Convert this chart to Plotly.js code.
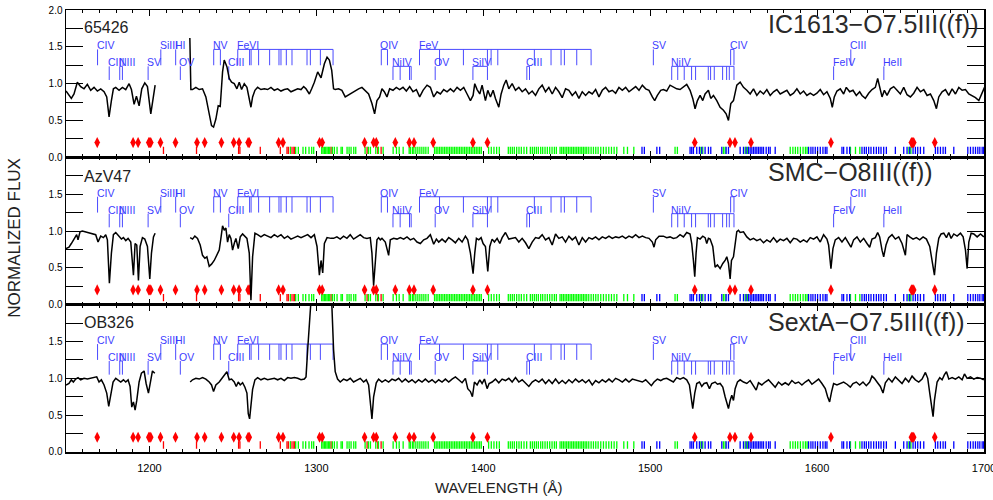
<!DOCTYPE html>
<html><head><meta charset="utf-8">
<script src="https://cdn.plot.ly/plotly-3.0.1.min.js"></script>
<style>html,body{margin:0;padding:0;background:#fff}#plot{width:993px;height:500px}</style>
</head><body><div id="plot"></div>
<script>
// ---------------- DATA ----------------
const starNames = ['65426', 'AzV47', 'OB326'];
const starTypes = ['IC1613\u2212O7.5III((f))', 'SMC\u2212O8III((f))', 'SextA\u2212O7.5III((f))'];

// spectra: [wavelength (A), normalized flux]
const spec1 = [[1150.0,0.90],[1151.8,0.84],[1153.2,0.80],[1154.8,0.86],[1156.8,1.02],[1158.8,0.96],[1160.8,0.93],[1162.8,0.99],[1164.8,0.91],[1166.8,0.95],[1168.8,0.90],[1170.8,0.93],[1172.8,0.89],[1174.4,0.82],[1175.8,0.55],[1177.2,0.77],[1178.4,0.93],[1179.8,0.95],[1181.8,0.91],[1183.8,0.95],[1185.8,0.92],[1187.8,1.00],[1189.2,0.92],[1190.8,0.72],[1192.2,0.83],[1193.8,0.70],[1195.4,0.93],[1197.2,1.01],[1198.8,0.96],[1200.8,0.59],[1202.4,0.82],[1203.4,0.98],[1214.0,null],
[1224.2,1.62],[1224.8,0.92],[1225.8,0.92],[1227.8,0.95],[1229.8,0.92],[1231.8,0.93],[1233.8,0.82],[1235.8,0.59],[1237.2,0.43],[1238.4,0.41],[1239.8,0.52],[1241.2,0.70],[1242.4,0.69],[1243.8,1.16],[1244.8,1.32],[1246.4,1.23],[1247.8,1.07],[1249.2,1.02],[1250.8,1.00],[1252.4,0.93],[1253.8,1.02],[1255.2,0.92],[1256.8,1.00],[1258.4,0.95],[1259.8,0.77],[1260.8,0.68],[1261.8,0.82],[1263.2,0.91],[1264.8,0.95],[1266.8,0.92],[1268.8,0.93],[1270.8,0.92],[1272.8,0.95],[1274.8,0.91],[1276.8,0.93],[1278.8,0.90],[1280.8,0.92],[1282.8,0.93],[1284.8,0.89],[1286.8,0.91],[1288.8,0.93],[1290.8,0.92],[1292.4,0.96],[1293.8,0.93],[1295.8,0.86],[1297.2,0.93],[1298.8,1.02],[1300.8,1.16],[1302.8,1.08],[1304.8,1.27],[1306.4,1.36],[1307.8,1.32],[1309.2,1.18],
[1310.3,0.93],[1311.3,0.92],[1313.3,0.93],[1315.3,0.91],[1317.3,0.82],[1319.3,0.85],[1321.3,0.87],[1323.3,0.91],[1325.3,0.93],[1327.3,0.95],[1329.3,0.91],[1331.3,0.86],[1333.3,0.73],[1334.9,0.59],[1336.3,0.77],[1337.9,0.82],[1339.3,0.93],[1340.7,0.89],[1342.3,0.82],[1343.9,0.93],[1345.9,0.91],[1347.9,0.95],[1349.9,0.92],[1351.9,0.95],[1353.9,0.90],[1355.9,0.96],[1357.9,0.89],[1359.9,0.92],[1361.9,0.82],[1363.9,0.91],[1366.3,0.98],[1368.3,0.95],[1370.3,0.82],[1372.3,0.89],[1374.3,0.86],[1376.3,0.92],[1378.3,0.89],[1380.3,0.93],[1382.3,0.89],[1384.3,0.95],[1386.3,0.91],[1388.3,0.95],[1390.3,0.86],[1392.3,0.77],[1393.9,0.84],[1394.9,1.00],[1396.3,0.92],[1397.9,0.86],[1399.3,0.98],[1401.3,0.77],[1402.7,0.91],[1404.3,0.82],[1405.9,0.91],[1407.3,0.80],[1409.3,0.68],[1410.7,0.86],[1412.3,0.98],[1413.7,1.05],[1415.3,0.93],[1417.3,1.00],[1419.3,0.91],[1421.3,0.95],[1423.3,0.89],[1425.3,0.93],[1427.3,0.86],[1429.3,0.90],[1431.3,0.84],[1433.3,0.93],[1435.3,0.98],[1437.3,0.89],[1439.3,0.95],[1441.3,0.86],[1443.3,0.95],[1445.3,0.89],[1447.3,0.81],[1449.3,0.93],[1451.3,0.91],[1453.3,0.84],[1455.3,0.89],[1457.3,0.80],[1459.3,0.89],[1461.3,0.84],[1463.3,0.89],[1465.3,0.86],[1467.3,0.92],[1469.3,0.82],[1471.3,0.91],[1473.3,0.95],[1475.3,0.89],[1477.3,0.91],[1479.3,0.87],[1481.3,0.95],[1483.3,0.91],[1485.3,0.95],[1487.3,0.89],[1489.3,0.93],[1491.3,0.96],[1493.3,0.91],[1495.3,0.98],[1497.3,0.93],[1499.3,0.91],[1501.3,0.82],[1502.7,0.77],[1504.3,0.84],[1506.3,0.91],
[1507.9,0.92],[1509.9,0.90],[1511.9,0.98],[1513.9,0.95],[1515.9,0.93],[1517.9,0.92],[1519.9,0.96],[1521.9,0.99],[1523.9,0.91],[1525.5,0.80],[1526.9,0.66],[1528.3,0.77],[1529.9,0.84],[1531.5,0.77],[1532.9,0.86],[1534.9,0.91],[1536.3,0.80],[1537.9,0.84],[1539.9,0.77],[1541.9,0.68],[1543.9,0.64],[1545.5,0.59],[1546.9,0.50],[1548.3,0.73],[1549.9,0.77],[1551.9,0.98],[1553.9,1.02],[1555.9,0.95],[1557.9,0.91],[1559.9,0.86],[1561.9,0.93],[1563.9,0.84],[1565.9,0.90],[1567.9,0.86],[1569.9,0.92],[1571.9,0.84],[1573.9,0.89],[1575.9,0.92],[1577.9,0.86],[1579.9,0.89],[1581.9,0.91],[1583.9,0.84],[1585.9,0.87],[1587.9,0.93],[1589.9,0.86],[1591.9,0.90],[1593.9,0.84],[1595.9,0.87],[1597.9,0.84],[1599.9,0.87],[1601.9,0.92],[1603.9,0.85],[1605.9,0.89],[1607.9,0.80],[1609.1,0.68],[1610.3,0.82],[1611.9,0.90],[1613.9,0.93],[1615.9,0.86],[1617.5,0.95],[1619.5,0.89],[1621.5,0.91],[1623.5,0.84],[1625.5,0.89],[1626.9,0.84],[1628.9,0.80],[1630.9,0.87],[1632.9,0.92],[1634.9,0.95],[1636.3,1.07],[1637.5,0.95],[1638.9,0.82],[1640.3,0.91],[1641.9,0.84],[1643.9,0.93],[1645.9,0.96],[1647.9,0.91],[1649.9,0.86],[1651.9,0.95],[1653.9,0.85],[1655.9,0.82],[1657.9,0.87],[1659.9,0.95],[1661.9,0.89],[1663.9,0.92],[1665.9,0.84],[1667.9,0.86],[1669.9,0.77],[1671.5,0.66],[1672.9,0.82],[1674.9,0.89],[1676.9,0.92],[1678.9,0.84],[1680.9,0.93],[1682.9,0.86],[1684.9,0.95],[1686.9,0.91],[1688.9,0.92],[1690.9,0.86],[1692.9,0.84],[1694.9,0.81],[1696.9,0.77],[1698.9,0.89],[1700.3,0.95]];

const spec2 = [[1150.0,0.76],[1151.8,0.78],[1153.2,0.83],[1154.8,0.90],[1156.4,0.95],[1157.2,0.88],[1158.4,0.99],[1159.8,1.00],[1161.8,0.99],[1163.8,0.98],[1165.8,0.96],[1167.8,0.95],[1169.2,0.85],[1170.8,0.93],[1172.4,0.91],[1173.8,0.95],[1174.8,0.88],[1176.0,0.29],[1177.2,0.70],[1178.4,0.95],[1179.8,0.98],[1181.8,0.93],[1183.2,0.89],[1184.4,0.91],[1185.8,0.87],[1187.2,0.90],[1188.8,0.85],[1190.4,0.40],[1191.4,0.83],[1192.4,0.81],[1193.4,0.33],[1194.4,0.79],[1195.8,0.91],[1197.2,0.89],[1198.8,0.79],[1200.2,0.35],[1201.2,0.70],[1202.4,0.92],[1203.4,0.97],[1214.0,null],
[1224.4,0.91],[1225.8,0.89],[1227.2,0.93],[1228.8,0.90],[1230.4,0.81],[1231.8,0.67],[1233.2,0.63],[1234.4,0.65],[1235.8,0.52],[1237.2,0.55],[1238.8,0.60],[1240.4,0.67],[1241.8,0.74],[1242.8,0.90],[1243.8,1.07],[1244.8,1.01],[1245.8,1.04],[1246.8,0.85],[1247.8,0.95],[1248.8,0.90],[1249.8,0.74],[1250.8,0.83],[1251.8,0.90],[1253.2,0.76],[1254.4,0.92],[1255.8,0.96],[1257.2,0.93],[1258.4,0.90],[1259.8,0.70],[1260.8,0.06],[1261.8,0.65],[1263.2,0.97],[1264.8,0.95],[1266.8,0.92],[1268.8,0.95],[1270.8,0.93],[1272.8,0.91],[1274.8,0.95],[1276.8,0.92],[1278.8,0.95],[1280.8,0.90],[1282.8,0.93],[1284.8,0.89],[1286.8,0.91],[1288.8,0.93],[1290.8,0.91],[1292.8,0.93],[1294.8,0.95],[1296.8,0.91],[1298.8,0.95],[1300.4,0.79],[1301.8,0.40],[1302.8,0.60],[1303.8,0.43],[1304.8,0.83],[1306.4,0.91],[1308.8,0.90],
[1310.3,0.90],[1312.3,0.92],[1314.3,0.89],[1316.3,0.93],[1318.3,0.90],[1320.3,0.95],[1322.3,0.89],[1324.3,0.92],[1326.3,0.95],[1328.3,0.91],[1330.3,0.90],[1332.3,0.91],[1333.3,0.70],[1334.3,0.26],[1335.3,0.60],[1336.3,0.88],[1337.3,0.91],[1338.3,0.88],[1339.3,0.90],[1341.3,0.85],[1343.3,0.67],[1344.3,0.88],[1346.3,0.90],[1348.3,0.89],[1350.3,0.91],[1352.3,0.89],[1354.3,0.92],[1356.3,0.88],[1358.3,0.90],[1360.3,0.85],[1362.3,0.83],[1364.3,0.88],[1366.3,0.90],[1368.3,0.95],[1370.3,0.82],[1371.9,0.89],[1373.3,0.85],[1375.3,0.89],[1377.3,0.85],[1379.3,0.91],[1381.3,0.88],[1383.3,0.84],[1385.3,0.90],[1387.3,0.85],[1389.3,0.93],[1390.7,0.88],[1392.3,0.70],[1393.9,0.42],[1394.9,0.70],[1395.9,0.90],[1397.3,0.88],[1398.7,0.91],[1399.9,0.83],[1401.3,0.79],[1402.7,0.45],[1403.9,0.79],[1405.3,0.89],[1406.7,0.85],[1408.3,0.90],[1409.9,0.83],[1411.3,0.91],[1413.3,0.98],[1415.3,0.89],[1417.3,0.90],[1419.3,0.91],[1421.3,0.85],[1423.3,0.90],[1425.3,0.84],[1427.3,0.76],[1429.3,0.85],[1431.3,0.91],[1433.3,0.90],[1435.3,0.95],[1437.3,0.88],[1439.3,0.91],[1441.3,0.81],[1443.3,0.96],[1445.3,0.90],[1447.3,0.92],[1449.3,0.85],[1451.3,0.93],[1453.3,0.88],[1455.3,0.92],[1457.3,0.81],[1459.3,0.91],[1461.3,0.85],[1463.3,0.91],[1465.3,0.89],[1467.3,0.92],[1469.3,0.88],[1471.3,0.92],[1473.3,0.90],[1475.3,0.93],[1477.3,0.90],[1479.3,0.92],[1481.3,0.91],[1483.3,0.93],[1485.3,0.90],[1487.3,0.93],[1489.3,0.91],[1491.3,0.95],[1493.3,0.91],[1495.3,0.93],[1497.3,0.91],[1499.3,0.90],[1501.3,0.85],[1502.3,0.78],[1503.3,0.88],[1505.3,0.93],
[1507.9,0.93],[1509.9,0.91],[1511.9,0.92],[1513.9,0.90],[1515.9,0.91],[1517.9,0.95],[1519.9,0.92],[1521.9,0.98],[1523.9,0.96],[1524.9,0.83],[1525.9,0.60],[1526.7,0.38],[1527.5,0.70],[1528.3,0.91],[1529.9,0.89],[1531.5,0.93],[1532.9,0.91],[1533.9,0.83],[1534.9,0.90],[1535.9,0.89],[1537.5,0.79],[1538.9,0.51],[1540.3,0.54],[1541.9,0.49],[1543.5,0.56],[1544.9,0.60],[1545.9,0.65],[1546.9,0.56],[1547.9,0.35],[1548.7,0.60],[1549.9,0.65],[1550.9,0.79],[1551.9,0.99],[1552.9,1.01],[1553.9,0.98],[1555.9,0.99],[1557.9,0.92],[1559.9,0.88],[1561.9,0.90],[1563.9,0.87],[1565.9,0.89],[1567.9,0.84],[1569.9,0.88],[1571.9,0.85],[1573.9,0.91],[1575.9,0.85],[1577.9,0.89],[1579.9,0.87],[1581.9,0.90],[1583.9,0.84],[1585.9,0.90],[1587.9,0.89],[1589.9,0.85],[1591.9,0.88],[1593.9,0.85],[1595.9,0.91],[1597.9,0.89],[1599.9,0.92],[1601.9,0.85],[1603.9,0.95],[1605.9,0.89],[1606.9,0.81],[1608.3,0.49],[1609.5,0.76],[1610.9,0.88],[1612.9,0.91],[1614.9,0.85],[1616.9,0.91],[1618.9,0.83],[1620.3,0.78],[1621.9,0.88],[1623.9,0.92],[1625.9,0.85],[1627.9,0.90],[1629.9,0.83],[1631.5,0.78],[1632.9,0.89],[1634.9,0.91],[1636.3,0.98],[1637.5,0.92],[1638.9,0.74],[1639.9,0.65],[1641.3,0.81],[1642.9,0.91],[1644.9,0.95],[1646.9,0.89],[1648.9,0.92],[1650.9,0.83],[1652.9,0.67],[1653.9,0.95],[1655.5,0.92],[1657.5,0.89],[1659.5,0.91],[1661.5,0.88],[1663.5,0.92],[1665.5,0.89],[1667.5,0.79],[1668.9,0.60],[1670.3,0.40],[1671.5,0.70],[1672.9,0.90],[1674.3,0.96],[1675.9,0.97],[1677.5,0.91],[1678.9,0.98],[1680.3,0.90],[1681.9,0.96],[1683.9,0.93],[1685.9,0.97],[1687.5,0.92],[1688.9,0.74],[1689.9,0.49],[1690.9,0.85],[1692.3,0.97],[1693.9,0.96],[1695.9,0.92],[1697.9,0.96],[1699.9,0.92]];

const spec3 = [[1150.0,0.91],[1151.8,0.93],[1153.2,0.98],[1154.4,0.95],[1155.8,0.99],[1157.2,1.01],[1158.8,0.98],[1160.8,1.00],[1162.8,0.99],[1164.8,1.00],[1166.8,1.01],[1168.4,1.02],[1169.8,0.95],[1171.2,0.98],[1172.8,0.91],[1174.4,0.80],[1175.6,0.62],[1176.8,0.75],[1178.2,0.95],[1179.8,1.00],[1181.2,0.98],[1182.8,0.95],[1184.4,0.98],[1185.8,0.95],[1187.2,0.98],[1188.4,0.89],[1189.4,0.61],[1190.4,0.68],[1191.4,0.57],[1192.4,0.70],[1193.8,0.95],[1195.2,1.07],[1196.8,1.10],[1198.0,0.93],[1199.4,0.80],[1200.4,0.91],[1201.8,1.10],[1203.2,1.07],[1214.0,null],
[1224.4,0.95],[1225.8,0.98],[1227.8,1.00],[1229.8,0.99],[1231.8,1.01],[1233.8,0.99],[1235.8,0.95],[1237.2,0.91],[1238.4,0.82],[1239.8,0.91],[1241.8,0.95],[1243.8,1.01],[1245.2,1.05],[1246.4,1.09],[1247.8,0.98],[1249.2,0.99],[1250.8,0.95],[1252.0,0.89],[1253.2,0.95],[1254.4,0.91],[1255.8,0.94],[1257.2,0.88],[1258.4,0.80],[1259.2,0.52],[1260.0,0.45],[1260.8,0.61],[1261.8,0.85],[1263.2,0.98],[1264.8,1.01],[1266.8,0.98],[1268.8,1.00],[1270.8,0.98],[1272.8,0.99],[1274.8,1.00],[1276.8,0.98],[1278.8,1.00],[1280.8,0.97],[1282.8,1.01],[1284.8,1.00],[1286.8,1.01],[1288.8,1.00],[1290.8,0.98],[1292.8,0.99],[1293.8,1.02],[1294.8,1.39],[1295.8,1.84],[1296.6,2.40],[1299.0,2.80],[1304.0,2.90],[1308.4,2.50],[1309.3,1.98],[1310.3,1.39],[1311.3,1.09],[1312.7,0.99],
[1314.3,0.95],[1316.3,0.99],[1318.3,0.97],[1320.3,1.00],[1322.3,0.95],[1324.3,0.98],[1326.3,1.00],[1328.3,0.95],[1329.9,0.98],[1331.3,0.91],[1332.3,0.70],[1333.3,0.45],[1334.3,0.75],[1335.9,0.94],[1337.3,0.99],[1339.3,0.95],[1341.3,0.98],[1343.3,0.95],[1345.3,0.99],[1347.3,0.97],[1349.3,1.00],[1351.3,0.95],[1353.3,0.99],[1355.3,0.95],[1357.3,0.98],[1359.3,0.94],[1361.3,0.98],[1363.3,0.95],[1365.3,0.99],[1367.3,0.95],[1369.3,0.98],[1371.3,0.94],[1373.3,0.98],[1375.3,0.95],[1377.3,0.99],[1379.3,0.95],[1381.3,0.99],[1383.3,1.02],[1385.3,0.98],[1387.3,0.94],[1389.3,1.00],[1390.7,0.86],[1392.3,0.82],[1393.5,0.75],[1394.7,0.95],[1396.3,0.91],[1397.9,0.98],[1399.3,0.93],[1400.7,0.99],[1402.3,0.86],[1403.5,0.93],[1405.3,0.95],[1407.3,0.99],[1409.3,0.94],[1411.3,0.99],[1413.3,0.97],[1415.3,1.00],[1417.3,0.95],[1419.3,1.01],[1421.3,0.95],[1423.3,0.98],[1425.3,0.94],[1427.3,0.89],[1429.3,0.95],[1431.3,0.98],[1433.3,0.95],[1435.3,0.99],[1437.3,0.93],[1439.3,0.98],[1441.3,0.93],[1443.3,0.99],[1445.3,0.93],[1447.3,0.97],[1449.3,0.93],[1451.3,0.98],[1453.3,0.94],[1455.3,0.99],[1457.3,0.95],[1459.3,0.98],[1461.3,0.94],[1463.3,0.98],[1465.3,0.91],[1467.3,0.97],[1469.3,0.94],[1471.3,0.98],[1473.3,0.95],[1475.3,0.99],[1477.3,0.95],[1479.3,1.00],[1481.3,0.98],[1483.3,0.95],[1485.3,0.99],[1487.3,0.95],[1489.3,0.99],[1491.3,0.98],[1493.3,0.97],[1495.3,0.95],[1497.3,0.98],[1499.3,0.94],[1500.7,0.90],[1502.3,0.95],[1504.3,0.99],[1506.3,0.97],
[1507.9,0.99],[1509.9,1.00],[1511.9,0.98],[1513.9,0.95],[1515.9,1.01],[1517.9,0.99],[1519.9,1.01],[1521.9,0.98],[1523.5,0.91],[1524.7,0.70],[1525.5,0.59],[1526.7,0.80],[1527.9,0.93],[1529.5,0.95],[1530.9,0.89],[1532.3,0.93],[1533.9,0.94],[1535.5,0.86],[1536.9,0.93],[1538.9,0.95],[1540.3,0.92],[1541.9,0.93],[1543.5,0.88],[1544.9,0.75],[1545.9,0.66],[1546.9,0.59],[1547.9,0.70],[1548.9,0.77],[1549.9,0.70],[1550.9,0.86],[1552.3,0.95],[1553.9,0.98],[1555.9,0.95],[1557.9,0.93],[1559.9,0.97],[1561.9,0.90],[1563.5,0.84],[1564.9,0.94],[1566.9,0.91],[1568.9,0.95],[1570.9,0.98],[1572.9,0.93],[1574.9,0.88],[1576.9,0.95],[1578.9,0.91],[1580.9,0.94],[1582.9,0.91],[1584.9,0.97],[1586.9,0.93],[1588.9,0.95],[1590.9,0.91],[1592.9,0.95],[1594.9,0.98],[1596.9,0.92],[1598.9,0.95],[1600.9,0.99],[1602.9,0.93],[1604.9,0.86],[1606.3,0.75],[1607.5,0.68],[1608.7,0.82],[1609.9,0.93],[1611.9,0.91],[1613.9,0.93],[1615.9,0.95],[1617.9,0.92],[1619.9,0.88],[1621.5,0.93],[1623.5,0.95],[1625.5,0.91],[1627.5,0.95],[1629.5,0.90],[1631.5,0.95],[1632.9,1.03],[1634.3,1.00],[1635.9,0.95],[1637.9,0.89],[1639.5,0.80],[1640.9,0.94],[1642.9,1.00],[1644.9,0.95],[1646.9,1.02],[1648.9,0.98],[1650.9,0.93],[1652.9,1.00],[1654.9,0.95],[1656.9,1.03],[1658.9,0.98],[1660.9,0.95],[1662.9,0.99],[1664.9,1.08],[1666.3,1.00],[1667.5,0.80],[1668.9,0.55],[1669.5,0.48],[1670.3,0.70],[1671.9,0.95],[1673.5,1.01],[1674.9,0.98],[1676.3,1.05],[1677.5,1.09],[1678.9,0.99],[1680.9,1.01],[1682.9,0.99],[1684.9,1.02],[1686.9,0.98],[1688.3,1.06],[1689.9,1.00],[1691.9,1.02],[1693.9,0.99],[1695.9,1.01],[1697.9,1.00],[1699.9,0.98]];

// photospheric line identifications (blue): label, row (1 = upper, 2 = lower), wavelengths
const idLabels = ['CIV','SiIII','HI','NV','FeVI','OIV','FeV','SV','CIV','CIII',
                  'CIII','NIII','SV','OV','CIII','NiIV','OV','SiIV','CIII','NiIV','FeIV','HeII'];
const idRows   = [1,1,1,1,1,1,1,1,1,1, 2,2,2,2,2,2,2,2,2,2,2,2];
const idWaves  = [
  [1168.9],[1206.8],[1215.7],[1238.5,1242.5],
  [1252.9,1260.0,1260.9,1265.4,1272.0,1277.6,1278.8,1282.0,1285.4,1294.4,1296.4,1302.4,1310.0],
  [1338.9,1342.6],
  [1361.8,1373.8,1388.1,1402.5,1404.7,1408.7,1430.6,1440.6,1446.6,1448.6,1456.0,1464.6],
  [1501.9],[1548.2,1550.2],[1620.2],
  [1175.9],[1182.2,1183.8],[1199.2],[1218.5],[1247.5],
  [1345.9,1350.2,1355.8,1356.8],[1371.2],[1393.8,1402.5],[1426.1,1427.7],
  [1512.9,1516.5,1520.4,1524.8,1527.2,1534.8,1536.2,1538.4,1543.4,1545.8,1547.4,1550.2],
  [1609.9],[1640.0]
];

// interstellar lines (red diamonds)
const ismDiamonds = [1168.7,1190.2,1193.2,1199.6,1200.2,1200.8,1206.6,1215.6,1228.5,1233.1,1243.1,1250.5,1253.7,1259.1,1259.8,1277.4,1280.0,1301.9,1303.5,1328.9,1334.3,1335.9,1347.3,1355.7,1358.5,1370.0,1393.8,1402.5,1526.7,1547.8,1550.8,1560.4,1608.3,1656.5,1657.2,1657.9,1670.5];
// short ticks at the bottom
const redTicks = [1208.4,1228.2,1253.4,1254.2,1266.4,1278.4,1282.4,1283.2,1284.8,1286.0,1286.8,1308.8,1330.4,1336.8,1338.8];
const greenTicks = [1284.4,1287.6,1289.2,1292.0,1293.6,1295.6,1297.2,1298.4,
 1303.2,1304.0,1304.8,1305.6,1306.4,1307.2,1308.0,1309.6,1310.8,1312.4,1314.8,1315.6,1318.4,1319.6,1320.8,1322.4,1323.6,
 1329.2,1331.2,1332.4,1335.6,1337.2,1340.0,1346.0,1348.0,1349.6,1352.0,
 1355.6,1356.4,1357.6,1358.4,1359.6,1360.8,1362.0,1363.2,1364.4,1365.6,1367.0,
 1370.8,1371.8,1372.8,1373.8,1374.8,1375.8,1376.8,1377.8,1378.8,1379.8,1380.8,1381.8,1382.8,1383.8,1384.8,1385.8,1386.8,1387.8,1388.8,1389.8,1390.8,1391.8,1392.8,1393.8,1394.8,1395.8,1396.8,1397.8,1398.8,
 1403.2,1404.8,1406.4,1408.0,1409.6,
 1415.0,1416.2,1417.4,1418.6,1420.0,1421.4,1422.8,1424.4,1426.0,
 1428.2,1429.4,1430.6,1431.8,1433.0,1434.4,1435.6,1437.0,1438.4,1439.8,1441.2,1442.6,1443.8,
 1446.0,1447.0,1448.0,1449.0,1450.0,1451.0,1452.0,1453.0,1454.0,1455.0,1456.0,1457.0,1458.0,1459.0,1460.0,1461.0,1462.0,1463.2,1464.6,1466.0,1467.4,1468.8,1470.4,1472.0,1473.6,1475.2,1476.8,1478.4,1480.0,
 1484.2,1486.4,1490.2,
 1514.9,1516.3,1529.9,1531.5,1543.9,1544.9,1556.9,1558.3,
 1583.9,1585.5,1587.0,1588.4,1590.0,1591.6,1593.0,1594.0,
 1620.0,1623.0,1625.6,1655.0,1656.2];
const blueTicks = [1495.1,1496.5,1504.0,1505.7,
 1523.9,1524.9,1525.9,1527.9,1529.5,1530.9,1532.9,1534.9,1536.3,
 1542.9,1545.5,1546.9,
 1553.9,1555.9,1557.5,1558.9,1559.9,1560.9,1561.9,1562.9,1563.9,1564.9,1565.9,1566.9,1567.9,1569.5,1570.9,1571.9,1574.9,
 1594.9,1596.3,1597.5,1598.9,1600.3,1601.9,1603.5,1604.9,1605.9,
 1614.9,1615.9,1617.9,1619.5,
 1626.9,1628.3,1629.5,1630.9,1632.3,1633.9,1635.5,1636.9,1638.3,1639.9,1641.5,
 1646.9,
 1651.9,1653.9,1655.5,1657.5,1658.9,1660.3,1661.9,1663.9,
 1670.9,1672.3,1673.9,1675.5,1676.9,
 1681.9,
 1690.3,1691.9,1693.5,1694.9,1696.3,1697.5,1698.9,1699.8];

const yTickVals = [0,0.25,0.5,0.75,1.0,1.25,1.5,1.75,2.0];

// ---------------- BUILD ----------------
const FONT = 'Liberation Sans, Arial, Helvetica, sans-serif';
const ID_BLUE = '#3c3cff';
const rowGeom = {1:{top:1.465, bot:1.25}, 2:{top:1.235, bot:1.05}};
const specs = [spec1, spec2, spec3];
const traces = [];
const annotations = [];

function segs(xs, y0, y1) {
  const X = [], Y = [];
  xs.forEach(w => { X.push(w, w, null); Y.push(y0, y1, null); });
  return {X, Y};
}

for (let k = 0; k < 3; k++) {
  const xa = k === 0 ? 'x' : 'x' + (k + 1);
  const ya = k === 0 ? 'y' : 'y' + (k + 1);
  // blue ID ticks + brackets
  const X = [], Y = [];
  idWaves.forEach((ws, i) => {
    const g = rowGeom[idRows[i]];
    ws.forEach(w => { X.push(w, w, null); Y.push(g.top, g.bot, null); });
    if (ws.length > 1) { X.push(ws[0], ws[ws.length - 1], null); Y.push(g.top, g.top, null); }
    annotations.push({xref: xa, yref: ya, x: ws[0], y: g.top, xanchor: 'left', yanchor: 'bottom',
      yshift: -3, xshift: -2, text: idLabels[i], showarrow: false, borderpad: 0,
      font: {family: FONT, size: 10.5, color: ID_BLUE}});
  });
  traces.push({type: 'scatter', mode: 'lines', x: X, y: Y, xaxis: xa, yaxis: ya,
    line: {color: '#4a4aff', width: 1}, hoverinfo: 'skip'});
  // bottom ticks
  const r = segs(redTicks, 0.045, 0.145);
  traces.push({type: 'scatter', mode: 'lines', x: r.X, y: r.Y, xaxis: xa, yaxis: ya,
    line: {color: '#ff0000', width: 1.3}, hoverinfo: 'skip'});
  const gT = segs(greenTicks, 0.045, 0.145);
  traces.push({type: 'scatter', mode: 'lines', x: gT.X, y: gT.Y, xaxis: xa, yaxis: ya,
    line: {color: '#00ff00', width: 1.3}, hoverinfo: 'skip'});
  const bT = segs(blueTicks, 0.045, 0.145);
  traces.push({type: 'scatter', mode: 'lines', x: bT.X, y: bT.Y, xaxis: xa, yaxis: ya,
    line: {color: '#0000ff', width: 1.3}, hoverinfo: 'skip'});
  // red diamonds
  traces.push({type: 'scatter', mode: 'markers', x: ismDiamonds, y: ismDiamonds.map(() => 0.2),
    xaxis: xa, yaxis: ya, marker: {symbol: 'diamond-tall', size: 8, color: '#ff0000', line: {width: 0}},
    hoverinfo: 'skip'});
  // spectrum
  traces.push({type: 'scatter', mode: 'lines', x: specs[k].map(p => p[0]), y: specs[k].map(p => p[1]),
    xaxis: xa, yaxis: ya, connectgaps: false, line: {color: '#000', width: 1.5}, hoverinfo: 'skip'});

  // star name (left) and type (right)
  annotations.push({xref: 'paper', yref: 'paper', x: 0.0175, y: [0.9615, 0.6244, 0.293][k], xanchor: 'left', yanchor: 'middle',
    text: starNames[k], showarrow: false, font: {family: FONT, size: 16, color: '#222'}});
  annotations.push({xref: 'paper', yref: 'paper', x: 0.7625, y: [0.9688, 0.6335, 0.293][k], xanchor: 'left', yanchor: 'middle',
    text: starTypes[k], showarrow: false, font: {family: FONT, size: 25, color: '#2a2a2a'}});
}

annotations.push({xref: 'paper', yref: 'paper', x: -0.0555, y: 0.485, xanchor: 'center', yanchor: 'middle',
  textangle: -90, text: 'NORMALIZED FLUX', showarrow: false, font: {family: FONT, size: 17, color: '#222'}});
annotations.push({xref: 'paper', yref: 'paper', x: 0.472, y: -0.0814, xanchor: 'center', yanchor: 'middle',
  text: 'WAVELENGTH (\u00c5)', showarrow: false, font: {family: FONT, size: 15, color: '#222'}});

const xBase = {
  range: [1150, 1700], showgrid: false, zeroline: false,
  showline: true, linecolor: '#000', linewidth: 1.5, mirror: 'ticks',
  ticks: 'inside', ticklen: 6, tickwidth: 1, tickcolor: '#000', tick0: 1100, dtick: 100,
  minor: {ticks: 'inside', ticklen: 3, tickwidth: 1, tickcolor: '#000', tick0: 1150, dtick: 10, showgrid: false},
  tickfont: {family: FONT, size: 11, color: '#000'}, ticklabelstandoff: 5, ticklabeloverflow: 'allow'
};
function yAxis(dom, showTop) {
  return {
    domain: dom, range: [0, 2], showgrid: false, zeroline: false,
    showline: true, linecolor: '#000', linewidth: 1.5, mirror: 'ticks',
    ticks: 'inside', ticklen: 17, tickwidth: 1, tickcolor: '#000',
    tickmode: 'array', tickvals: yTickVals,
    ticktext: yTickVals.map(v => (Math.abs(v * 2 - Math.round(v * 2)) < 1e-6 && (showTop || v < 2)) ? v.toFixed(1) : ''),
    tickfont: {family: FONT, size: 10, color: '#000'}
  };
}

const layout = {
  width: 993, height: 500,
  margin: {l: 66, r: 9, t: 10, b: 48},
  paper_bgcolor: '#fff', plot_bgcolor: '#fff', showlegend: false,
  font: {family: FONT, color: '#000'},
  xaxis:  Object.assign({}, xBase, {anchor: 'y',  showticklabels: false}),
  xaxis2: Object.assign({}, xBase, {anchor: 'y2', showticklabels: false}),
  xaxis3: Object.assign({}, xBase, {anchor: 'y3', showticklabels: true}),
  yaxis:  yAxis([2/3, 1], true),
  yaxis2: yAxis([1/3, 2/3], false),
  yaxis3: yAxis([0, 1/3], false),
  annotations: annotations
};

Plotly.newPlot('plot', traces, layout, {staticPlot: true, displayModeBar: false});
</script>
</body></html>
